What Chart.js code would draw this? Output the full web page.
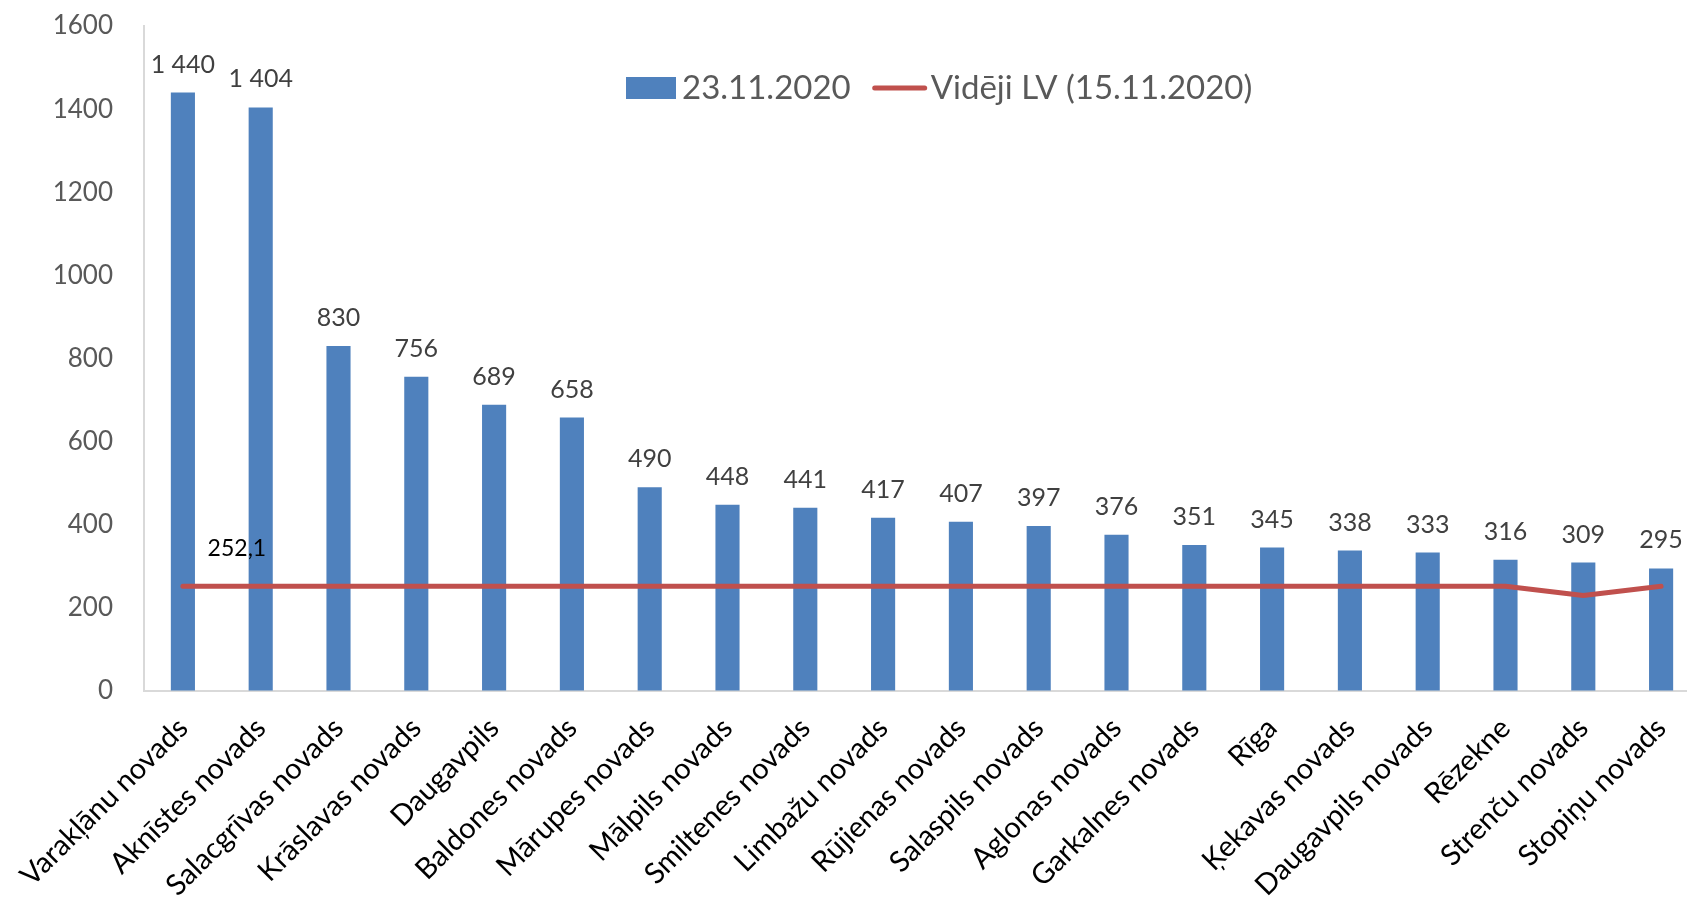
<!DOCTYPE html>
<html>
<head>
<meta charset="utf-8">
<script src="https://cdn.jsdelivr.net/npm/chart.js@4"></script>
<style>
    html, body { margin: 0; padding: 0; background: #fff; overflow: hidden; }
    #wrap { width: 1687px; height: 905px; overflow: hidden; }
</style>
</head>
<body>
<div id="wrap"><canvas id="casesChart" width="1700" height="905"></canvas></div>
<script>
const categories = [
    'Varakļānu novads', 'Aknīstes novads', 'Salacgrīvas novads', 'Krāslavas novads',
    'Daugavpils', 'Baldones novads', 'Mārupes novads', 'Mālpils novads',
    'Smiltenes novads', 'Limbažu novads', 'Rūjienas novads', 'Salaspils novads',
    'Aglonas novads', 'Garkalnes novads', 'Rīga', 'Ķekavas novads',
    'Daugavpils novads', 'Rēzekne', 'Strenču novads', 'Stopiņu novads'
];
const cases = [1440, 1404, 830, 756, 689, 658, 490, 448, 441, 417, 407, 397, 376, 351, 345, 338, 333, 316, 309, 295];
const lvAverage = [252.1, 252.1, 252.1, 252.1, 252.1, 252.1, 252.1, 252.1, 252.1, 252.1, 252.1, 252.1, 252.1, 252.1, 252.1, 252.1, 252.1, 252.1, 230, 252.1];
const seriesNames = ['23.11.2020', 'Vidēji LV (15.11.2020)'];
const yTicks = [0, 200, 400, 600, 800, 1000, 1200, 1400, 1600];

const FONT = 'Lato, "Open Sans", sans-serif';
const BAR_COLOR = '#4F81BD';
const LINE_COLOR = '#C0504D';

function formatThousands(v) {
    return String(v).replace(/\B(?=(\d{3})+(?!\d))/g, ' ');
}

// value labels above bars + first point of the line
const valueLabels = {
    id: 'valueLabels',
    afterDatasetsDraw(chart) {
        const ctx = chart.ctx;
        ctx.save();
        const barMeta = chart.getDatasetMeta(0);
        ctx.font = '25px ' + FONT;
        ctx.fillStyle = '#404040';
        ctx.textAlign = 'center';
        ctx.textBaseline = 'alphabetic';
        barMeta.data.forEach((bar, i) => {
            ctx.fillText(formatThousands(cases[i]), bar.x, bar.y - 20);
        });

        const lineMeta = chart.getDatasetMeta(1);
        const p = lineMeta.data[0];
        ctx.font = '23px ' + FONT;
        ctx.fillStyle = '#000000';
        ctx.fillText(String(lvAverage[0]).replace('.', ','), p.x + 54, p.y - 30);
        ctx.restore();
    }
};

// legend drawn at the top of the plot
const topLegend = {
    id: 'topLegend',
    afterDraw(chart) {
        const ctx = chart.ctx;
        const area = chart.chartArea;
        ctx.save();
        ctx.font = '33px ' + FONT;
        ctx.textBaseline = 'middle';
        ctx.textAlign = 'left';
        const cy = area.top + 62;
        let x = area.left + 482;

        ctx.fillStyle = BAR_COLOR;
        ctx.fillRect(x, cy - 11, 50, 22);
        x += 56;
        ctx.fillStyle = '#595959';
        ctx.fillText(seriesNames[0], x, cy);
        x += ctx.measureText(seriesNames[0]).width + 22;

        ctx.strokeStyle = LINE_COLOR;
        ctx.lineWidth = 5;
        ctx.lineCap = 'round';
        ctx.beginPath();
        ctx.moveTo(x + 2, cy);
        ctx.lineTo(x + 52, cy);
        ctx.stroke();
        x += 58;
        ctx.fillText(seriesNames[1], x, cy);
        ctx.restore();
    }
};

new Chart(document.getElementById('casesChart'), {
    type: 'bar',
    data: {
        labels: categories,
        datasets: [
            {
                label: seriesNames[0],
                data: cases,
                backgroundColor: BAR_COLOR,
                barPercentage: 0.31,
                categoryPercentage: 1,
                order: 1
            },
            {
                type: 'line',
                label: seriesNames[1],
                data: lvAverage,
                borderColor: LINE_COLOR,
                backgroundColor: LINE_COLOR,
                borderWidth: 5,
                borderCapStyle: 'round',
                borderJoinStyle: 'round',
                pointRadius: 0,
                tension: 0,
                order: 0
            }
        ]
    },
    options: {
        responsive: false,
        animation: false,
        layout: {
            padding: { top: 26, left: 0, right: 0, bottom: 0 }
        },
        scales: {
            x: {
                offset: true,
                grid: { display: false },
                border: { display: true, color: '#D9D9D9', width: 2 },
                ticks: {
                    color: '#000000',
                    font: { family: FONT, size: 29 },
                    minRotation: 45,
                    maxRotation: 45,
                    autoSkip: false,
                    padding: 12
                },
                afterFit(scale) {
                    scale.height = 214;
                }
            },
            y: {
                min: 0,
                max: 1600,
                grid: {
                    display: true,
                    drawOnChartArea: false,
                    drawTicks: true,
                    tickLength: 31,
                    tickColor: 'rgba(0,0,0,0)'
                },
                border: { display: true, color: '#D9D9D9', width: 2 },
                afterBuildTicks(scale) {
                    scale.ticks = yTicks.map(v => ({ value: v }));
                },
                ticks: {
                    color: '#595959',
                    font: { family: FONT, size: 26 },
                    padding: 0,
                    callback: value => String(value)
                },
                afterFit(scale) {
                    scale.width = 144;
                }
            }
        },
        plugins: {
            legend: { display: false },
            tooltip: { enabled: false }
        }
    },
    plugins: [valueLabels, topLegend]
});
</script>
</body>
</html>
